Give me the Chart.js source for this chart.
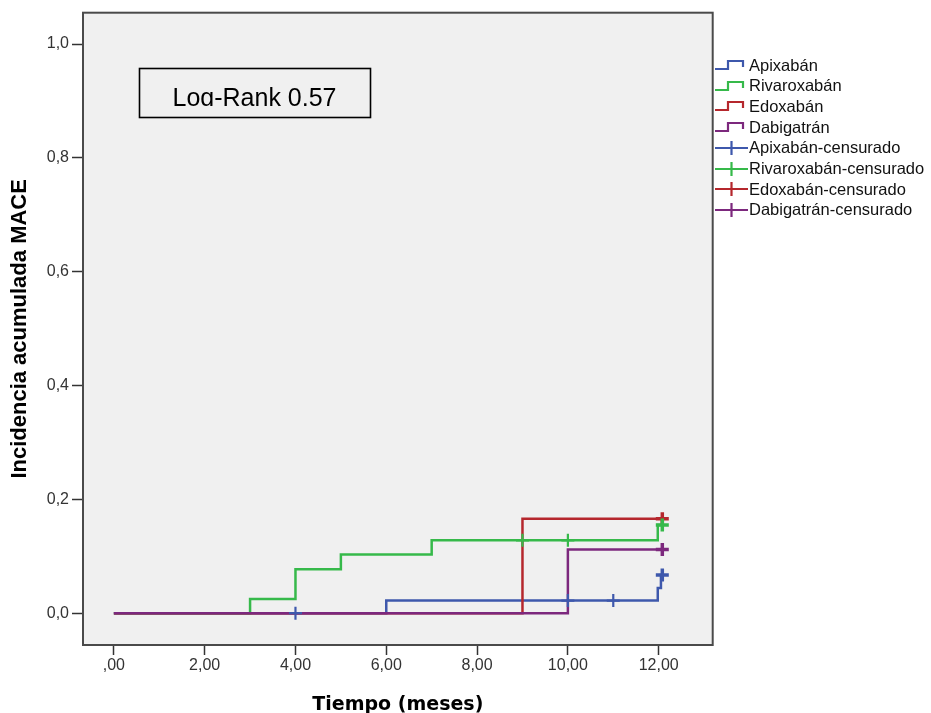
<!DOCTYPE html>
<html>
<head>
<meta charset="utf-8">
<script src="https://cdn.jsdelivr.net/npm/chart.js@4/dist/chart.umd.min.js"></script>
<style>
  html, body { margin: 0; padding: 0; background: #fff; }
  #wrap { position: relative; width: 931px; height: 713px; overflow: hidden; }
  #legend { position: absolute; left: 714px; top: 0; font-family: "Liberation Sans", Arial, sans-serif; font-size: 16.5px; color: #111; }
  .item { position: absolute; left: 0; height: 20px; display: flex; align-items: center; white-space: nowrap; }
  .item svg { width: 35px; height: 20px; flex: none; }
</style>
</head>
<body>
<div id="wrap">
  <canvas id="chart" width="931" height="713"></canvas>
  <div id="legend"></div>
</div>
<script>
// Axis ticks
const xTicks = [0, 2, 4, 6, 8, 10, 12];
const xTickLabels = [',00', '2,00', '4,00', '6,00', '8,00', '10,00', '12,00'];
const yTicks = [0, 0.2, 0.4, 0.6, 0.8, 1.0];
const yTickLabels = ['0,0', '0,2', '0,4', '0,6', '0,8', '1,0'];

// Series names
const groups = ['Apixabán', 'Rivaroxabán', 'Edoxabán', 'Dabigatrán'];
const groupColors = ['#3e58ac', '#36b94a', '#b5272d', '#7c287d'];

// Cumulative incidence steps (time in months, incidence)
const apixabanTime = [0, 6, 11.98, 12.05, 12.08];
const apixabanInc = [0, 0.022, 0.044, 0.067, 0.067];
const rivaroxabanTime = [0, 3, 4, 5, 7, 11.98, 12.08];
const rivaroxabanInc = [0, 0.025, 0.077, 0.103, 0.128, 0.155, 0.155];
const edoxabanTime = [0, 9, 12.08];
const edoxabanInc = [0, 0.166, 0.166];
const dabigatranTime = [0, 10, 12.08];
const dabigatranInc = [0, 0.112, 0.112];

// Censored observations
const apixabanCensTime = [4, 10, 11, 12.08];
const apixabanCensInc = [0, 0.022, 0.022, 0.067];
const rivaroxabanCensTime = [9, 10, 12.08];
const rivaroxabanCensInc = [0.128, 0.128, 0.155];
const edoxabanCensTime = [12.08];
const edoxabanCensInc = [0.166];
const dabigatranCensTime = [12.08];
const dabigatranCensInc = [0.112];

const curveTimes = [apixabanTime, rivaroxabanTime, edoxabanTime, dabigatranTime];
const curveIncs = [apixabanInc, rivaroxabanInc, edoxabanInc, dabigatranInc];
const censTimes = [apixabanCensTime, rivaroxabanCensTime, edoxabanCensTime, dabigatranCensTime];
const censIncs = [apixabanCensInc, rivaroxabanCensInc, edoxabanCensInc, dabigatranCensInc];

const logRankText = 'Log-Rank 0,57';

function toPoints(times, incs) {
    return times.map((t, i) => ({ x: t, y: incs[i] }));
}

const datasets = [];

// censored marks on top
groups.forEach((name, g) => {
    const n = censTimes[g].length;
    datasets.push({
        type: 'scatter',
        label: name + '-censurado',
        data: toPoints(censTimes[g], censIncs[g]),
        pointStyle: 'cross',
        pointRadius: 6.5,
        pointBorderWidth: censTimes[g].map((t, i) => i === n - 1 ? 3.5 : 2.2),
        borderColor: groupColors[g],
        backgroundColor: groupColors[g],
        order: 0
    });
});

// step curves, purple drawn over the others
groups.forEach((name, g) => {
    datasets.push({
        type: 'line',
        label: name,
        data: toPoints(curveTimes[g], curveIncs[g]),
        stepped: true,
        borderColor: groupColors[g],
        borderWidth: 2.5,
        pointRadius: 0,
        fill: false,
        tension: 0,
        order: 4 - g
    });
});

const plotFrame = {
    id: 'plotFrame',
    beforeDraw(chart) {
        const { ctx, chartArea: a } = chart;
        ctx.save();
        ctx.fillStyle = '#f0f0f0';
        ctx.fillRect(a.left, a.top, a.right - a.left, a.bottom - a.top);
        ctx.restore();
    },
    afterDraw(chart) {
        const { ctx, chartArea: a } = chart;
        ctx.save();
        ctx.strokeStyle = '#4a4a4a';
        ctx.lineWidth = 2;
        ctx.strokeRect(a.left, a.top, a.right - a.left, a.bottom - a.top);

        // Log-Rank box
        ctx.strokeStyle = '#000';
        ctx.lineWidth = 1.6;
        ctx.strokeRect(139.5, 68.5, 231, 49);
        ctx.beginPath();
        ctx.rect(139, 68, 232, 38);
        ctx.clip();
        ctx.fillStyle = '#000';
        ctx.font = '25px "Liberation Sans", Arial, sans-serif';
        ctx.textBaseline = 'alphabetic';
        ctx.fillText(logRankText, 172.5, 105.5);
        ctx.restore();
    }
};

const tickFont = { family: '"Liberation Sans", Arial, sans-serif', size: 16 };

new Chart(document.getElementById('chart').getContext('2d'), {
    data: { datasets: datasets },
    options: {
        responsive: false,
        animation: false,
        devicePixelRatio: 1,
        layout: { padding: { top: 12.7, right: 218.3, left: 0, bottom: 0 } },
        plugins: {
            legend: { display: false },
            tooltip: { enabled: false }
        },
        scales: {
            x: {
                type: 'linear',
                min: -0.68,
                max: 13.19,
                afterBuildTicks: s => { s.ticks = xTicks.map(v => ({ value: v })); },
                afterFit: s => { s.height = 68; },
                ticks: {
                    autoSkip: false,
                    maxRotation: 0,
                    padding: 1,
                    color: '#333',
                    font: tickFont,
                    callback: (v, i) => xTickLabels[i]
                },
                grid: { drawOnChartArea: false, tickLength: 10, tickColor: '#333', tickWidth: 1.5 },
                border: { display: false },
                title: {
                    display: true,
                    text: 'Tiempo (meses)',
                    color: '#000',
                    font: { family: '"DejaVu Sans", Verdana, sans-serif', weight: 'bold', size: 19 },
                    padding: { top: 0, bottom: -3 }
                }
            },
            y: {
                type: 'linear',
                min: -0.056,
                max: 1.055,
                afterBuildTicks: s => { s.ticks = yTicks.map(v => ({ value: v })); },
                afterFit: s => { s.width = 83; },
                ticks: {
                    autoSkip: false,
                    padding: 3,
                    color: '#333',
                    font: tickFont,
                    callback: (v, i) => yTickLabels[i]
                },
                grid: { drawOnChartArea: false, tickLength: 11, tickColor: '#333', tickWidth: 1.5 },
                border: { display: false },
                title: {
                    display: true,
                    text: 'Incidencia acumulada MACE',
                    color: '#000',
                    font: { family: '"Liberation Sans", Arial, sans-serif', weight: 'bold', size: 22 },
                    padding: { top: 7, bottom: 0 }
                }
            }
        }
    },
    plugins: [plotFrame]
});

// Legend
const legendEl = document.getElementById('legend');
const stepIcon = c => `<svg viewBox="0 0 35 20"><path d="M1 14 H14 V6 H29 V12" fill="none" stroke="${c}" stroke-width="2.2"/></svg>`;
const crossIcon = c => `<svg viewBox="0 0 35 20"><path d="M1 10 H34 M17.5 3 V17" fill="none" stroke="${c}" stroke-width="2.2"/></svg>`;
const legendItems = groups.map((g, i) => ({ text: g, icon: stepIcon(groupColors[i]) }))
    .concat(groups.map((g, i) => ({ text: g + '-censurado', icon: crossIcon(groupColors[i]) })));
legendItems.forEach((item, i) => {
    const row = document.createElement('div');
    row.className = 'item';
    row.style.top = (55 + i * 20.7) + 'px';
    row.innerHTML = item.icon + '<span>' + item.text + '</span>';
    legendEl.appendChild(row);
});
</script>
</body>
</html>
